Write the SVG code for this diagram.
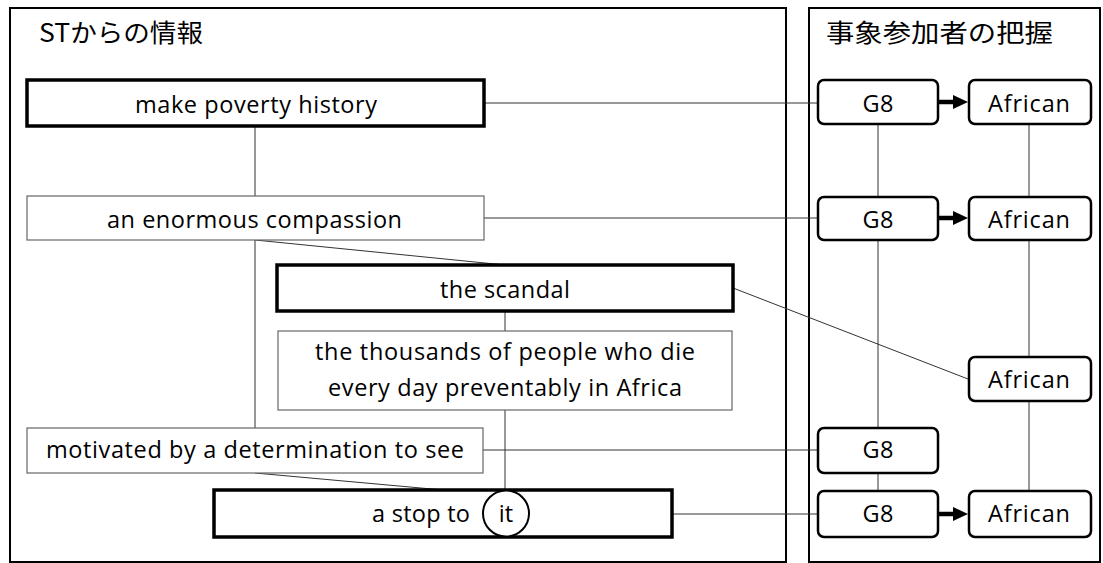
<svg xmlns="http://www.w3.org/2000/svg" width="1103" height="563" viewBox="0 0 1103 563">
<style>
.panel{fill:#fff;stroke:#000;stroke-width:2}
.thick{fill:#fff;stroke:#000;stroke-width:3.5}
.thin{fill:#fff;stroke:#666;stroke-width:1.2}
.node{fill:#fff;stroke:#000;stroke-width:2.5}
.conn{fill:none;stroke:#333;stroke-width:1}
.arr{fill:none;stroke:#000;stroke-width:4.5}
.t{font-family:"Open Sans","Liberation Sans",sans-serif;font-size:23.5px;fill:#000;text-anchor:middle}
.title{font-family:"Noto Sans CJK JP","Noto Sans",sans-serif;font-size:25px;fill:#000}
</style>
<defs>
<marker id="ah" markerUnits="userSpaceOnUse" markerWidth="16" markerHeight="14" refX="1" refY="7" orient="auto">
<path d="M0,0 L15,7 L0,14 Z" fill="#000"/>
</marker>
</defs>
<rect width="1103" height="563" fill="#fff"/>
<g id="panel-st">
<rect class="panel" x="10" y="8" width="776" height="554"/>
<text class="title" x="39" y="41.5" textLength="164" lengthAdjust="spacingAndGlyphs">STからの情報</text>
</g>
<g id="panel-participants">
<rect class="panel" x="809" y="8" width="291" height="554"/>
<text class="title" x="826" y="41.5" textLength="227" lengthAdjust="spacingAndGlyphs">事象参加者の把握</text>
</g>
<g id="connectors">
<line class="conn" x1="255" y1="126" x2="255" y2="196"/>
<line class="conn" x1="255" y1="240" x2="255" y2="428"/>
<line class="conn" x1="255" y1="240" x2="505" y2="265"/>
<line class="conn" x1="255" y1="473" x2="443" y2="490"/>
<line class="conn" x1="505" y1="311" x2="505" y2="331"/>
<line class="conn" x1="505" y1="410" x2="505" y2="490"/>
<line class="conn" x1="484" y1="103" x2="818" y2="103"/>
<line class="conn" x1="484" y1="218" x2="818" y2="218"/>
<line class="conn" x1="733" y1="288" x2="968" y2="379"/>
<line class="conn" x1="483" y1="450" x2="818" y2="450"/>
<line class="conn" x1="672" y1="514" x2="818" y2="514"/>
<line class="conn" x1="878" y1="124" x2="878" y2="197"/>
<line class="conn" x1="878" y1="240" x2="878" y2="428"/>
<line class="conn" x1="878" y1="473" x2="878" y2="491"/>
<line class="conn" x1="1029" y1="124" x2="1029" y2="197"/>
<line class="conn" x1="1029" y1="240" x2="1029" y2="357"/>
<line class="conn" x1="1029" y1="401" x2="1029" y2="491"/>
<line class="arr" x1="938" y1="102" x2="954" y2="102" marker-end="url(#ah)"/>
<line class="arr" x1="938" y1="218" x2="954" y2="218" marker-end="url(#ah)"/>
<line class="arr" x1="938" y1="514" x2="954" y2="514" marker-end="url(#ah)"/>
</g>
<g id="n-make-poverty">
<rect class="thick" x="27" y="80" width="457" height="46"/>
<text class="t" x="256" y="113" textLength="242">make poverty history</text>
</g>
<g id="n-compassion">
<rect class="thin" x="27" y="196" width="457" height="44"/>
<text class="t" x="254.5" y="228" textLength="295">an enormous compassion</text>
</g>
<g id="n-scandal">
<rect class="thick" x="277" y="265" width="456" height="46"/>
<text class="t" x="505" y="298" textLength="130">the scandal</text>
</g>
<g id="n-thousands">
<rect class="thin" x="278" y="331" width="454" height="79"/>
<text class="t" x="505" y="360" textLength="380">the thousands of people who die</text>
<text class="t" x="505" y="396" textLength="354">every day preventably in Africa</text>
</g>
<g id="n-motivated">
<rect class="thin" x="27" y="428" width="456" height="45"/>
<text class="t" x="255" y="458" textLength="418">motivated by a determination to see</text>
</g>
<g id="n-stop">
<rect class="thick" x="214" y="490" width="458" height="47"/>
<text class="t" x="421" y="522" textLength="98">a stop to</text>
<circle cx="506" cy="513.5" r="23" fill="#fff" stroke="#000" stroke-width="2"/>
<text class="t" x="506" y="522">it</text>
</g>
<g id="n-g8-1">
<rect class="node" x="818" y="80" width="120" height="44" rx="6"/>
<text class="t" x="878" y="112" textLength="31">G8</text>
</g>
<g id="n-african-1">
<rect class="node" x="969" y="80" width="122" height="44" rx="6"/>
<text class="t" x="1029" y="112" textLength="82">African</text>
</g>
<g id="n-g8-2">
<rect class="node" x="818" y="197" width="120" height="43" rx="6"/>
<text class="t" x="878" y="228" textLength="31">G8</text>
</g>
<g id="n-african-2">
<rect class="node" x="969" y="197" width="122" height="43" rx="6"/>
<text class="t" x="1029" y="228" textLength="82">African</text>
</g>
<g id="n-african-3">
<rect class="node" x="969" y="357" width="122" height="44" rx="6"/>
<text class="t" x="1029" y="388" textLength="82">African</text>
</g>
<g id="n-g8-3">
<rect class="node" x="818" y="428" width="120" height="45" rx="6"/>
<text class="t" x="878" y="458" textLength="31">G8</text>
</g>
<g id="n-g8-4">
<rect class="node" x="818" y="491" width="120" height="46" rx="6"/>
<text class="t" x="878" y="522" textLength="31">G8</text>
</g>
<g id="n-african-4">
<rect class="node" x="969" y="491" width="122" height="46" rx="6"/>
<text class="t" x="1029" y="522" textLength="82">African</text>
</g>
</svg>
